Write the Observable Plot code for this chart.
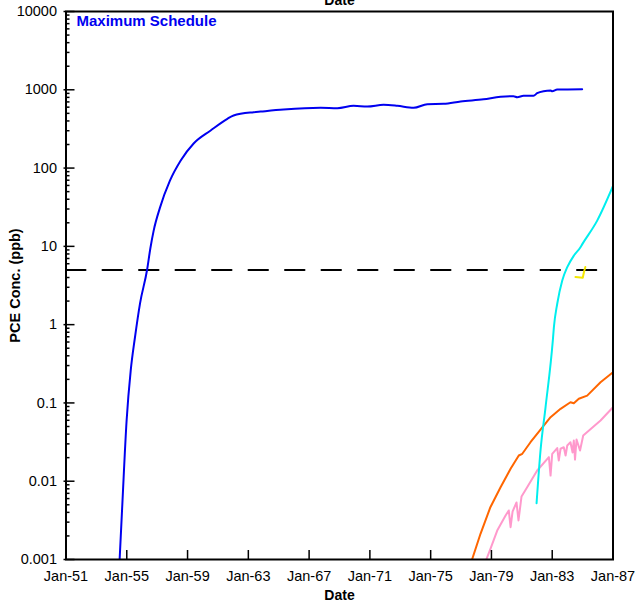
<!DOCTYPE html>
<html>
<head>
<meta charset="utf-8">
<script src="https://cdn.jsdelivr.net/npm/d3@7"></script>
<script src="https://cdn.jsdelivr.net/npm/@observablehq/plot@0.6"></script>
<style>
  html, body { margin: 0; padding: 0; background: #fff; }
  #chart svg { display: block; }
</style>
</head>
<body>
<div id="chart"></div>
<script>
// Time in decimal years
const maxYears = [1954.53,1954.71,1954.99,1955.26,1955.54,1955.87,1956.34,1956.55,1956.77,1957.18,1957.84,1958.55,1959.40,1960.52,1961.62,1962.03,1963.35,1963.81,1965.32,1967.76,1968.86,1969.93,1970.83,1971.90,1972.80,1973.88,1974.78,1975.85,1976.97,1978.48,1979.60,1980.45,1980.70,1981.11,1981.77,1982.01,1982.43,1982.90,1983.00,1983.33,1984.97];
const maxConc  = [0.001,0.0052,0.06,0.26,0.69,1.86,5.06,9.4,15.9,31,69,125,206,302,426,469,517,527,559,588,582,624,611,642,624,588,654,662,709,757,813,828,804,838,838,904,959,978,959,1007,1016];

const cyanYears = [1981.97,1982.23,1982.56,1983.04,1983.11,1983.33,1983.66,1983.99,1984.43,1984.86,1984.97,1985.96,1987.0];
const cyanConc  = [0.00524,0.0247,0.088,0.63,0.93,1.85,3.66,5.42,7.65,9.76,10.6,21.3,59];

const orangeYears = [1977.74,1978.28,1978.93,1979.60,1980.26,1980.80,1981.03,1981.57,1982.23,1982.89,1983.55,1984.20,1984.42,1984.75,1985.30,1986.18,1987.0];
const orangeConc  = [0.00102,0.00213,0.00466,0.00838,0.0144,0.0213,0.0224,0.0315,0.0457,0.0658,0.0841,0.102,0.099,0.113,0.124,0.184,0.247];

const pinkYears = [1978.68,1978.94,1979.38,1979.93,1980.14,1980.26,1980.39,1980.65,1980.78,1980.98,1981.38,1982.01,1982.78,1982.89,1983.00,1983.33,1983.43,1983.55,1983.76,1983.88,1983.99,1984.20,1984.34,1984.42,1984.50,1984.60,1984.83,1985.04,1986.18,1987.0];
const pinkConc  = [0.00102,0.00138,0.00234,0.00365,0.00423,0.00259,0.0041,0.00535,0.00315,0.00638,0.00856,0.0137,0.0203,0.0118,0.0224,0.0265,0.0184,0.026,0.0272,0.0213,0.0286,0.0315,0.0233,0.0331,0.0189,0.0341,0.0247,0.0384,0.0596,0.0881];

const yellowYears = [1984.53,1985.01,1985.09,1985.18];
const yellowConc  = [4.06,3.98,4.7,5.44];

const mclYears = [1951, 1985.9];
const mclValue = 5;

const xTicks = [1951,1955,1959,1963,1967,1971,1975,1979,1983,1987];
const xTickLabels = ["Jan-51","Jan-55","Jan-59","Jan-63","Jan-67","Jan-71","Jan-75","Jan-79","Jan-83","Jan-87"];
const yTicks = [0.001,0.01,0.1,1,10,100,1000,10000];
const yTickLabels = ["0.001","0.01","0.1","1","10","100","1000","10000"];
const yMinor = [];
for (const d of yTicks.slice(0, -1)) for (let k = 2; k <= 9; k++) yMinor.push(+(d * k).toPrecision(3));

const toRows = (xs, ys) => xs.map((x, i) => ({x, y: ys[i]}));

const chart = Plot.plot({
  width: 637,
  height: 602,
  marginTop: 11,
  marginBottom: 43,
  marginLeft: 65.5,
  marginRight: 24.5,
  style: {fontFamily: "'Liberation Sans', Arial, sans-serif", fontSize: "14.5px", background: "#fff", color: "#000"},
  x: {type: "linear", domain: [1951, 1987], label: null},
  y: {type: "log", domain: [0.001, 10000], label: null},
  marks: [
    Plot.line(toRows(mclYears, [mclValue, mclValue]), {x: "x", y: "y", stroke: "#000", strokeWidth: 2, strokeDasharray: "19.5,17"}),
    Plot.line(toRows(maxYears, maxConc), {x: "x", y: "y", stroke: "#0000f0", strokeWidth: 2, curve: "monotone-x", clip: true}),
    Plot.line(toRows(orangeYears, orangeConc), {x: "x", y: "y", stroke: "#ff6600", strokeWidth: 2, clip: true}),
    Plot.line(toRows(pinkYears, pinkConc), {x: "x", y: "y", stroke: "#ff99cc", strokeWidth: 2, clip: true}),
    Plot.line(toRows(cyanYears, cyanConc), {x: "x", y: "y", stroke: "#00eeee", strokeWidth: 2, curve: "monotone-x", clip: true}),
    Plot.line(toRows(yellowYears, yellowConc), {x: "x", y: "y", stroke: "#f2e600", strokeWidth: 2}),
    Plot.frame({stroke: "#000", strokeWidth: 2}),
    // y ticks (inward)
    Plot.axisY({ticks: yTicks, tickSize: 11, dx: 9, tickFormat: () => "", label: null, strokeWidth: 1.5}),
    Plot.axisY({ticks: yMinor, tickSize: 4, dx: 4, tickFormat: () => "", label: null, strokeWidth: 1.5}),
    Plot.axisY({ticks: yTicks, tickSize: 0, tickPadding: 9, tickFormat: d => yTickLabels[yTicks.indexOf(d)], label: null}),
    // x ticks (inward)
    Plot.axisX({ticks: xTicks, tickSize: 9, dy: -9, tickFormat: () => "", label: null, strokeWidth: 1.5}),
    Plot.axisX({ticks: xTicks, tickSize: 0, tickPadding: 11, tickFormat: d => xTickLabels[xTicks.indexOf(d)], label: null}),
    // texts
    Plot.text(["Maximum Schedule"], {frameAnchor: "top-left", dx: 10.5, dy: 4, lineAnchor: "top", textAnchor: "start", fill: "#0000f0", fontWeight: "bold", fontSize: 15}),
    Plot.text(["Date"], {frameAnchor: "top", dy: -7, lineAnchor: "bottom", fontWeight: "bold", fontSize: 14}),
    Plot.text(["Date"], {frameAnchor: "bottom", dy: 40, lineAnchor: "bottom", fontWeight: "bold", fontSize: 14}),
    Plot.text(["PCE Conc. (ppb)"], {frameAnchor: "left", dx: -50.5, rotate: -90, textAnchor: "middle", lineAnchor: "middle", fontWeight: "bold", fontSize: 14.5})
  ]
});
document.getElementById("chart").appendChild(chart);
</script>
</body>
</html>
